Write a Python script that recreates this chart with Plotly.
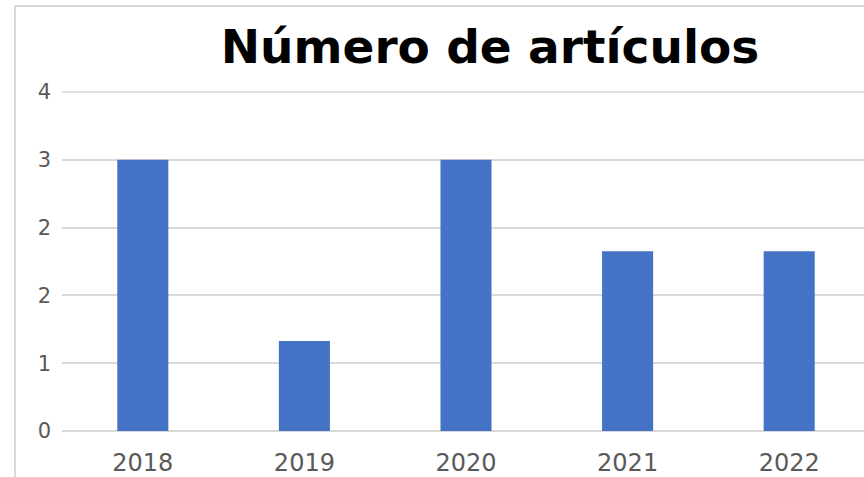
import plotly.graph_objects as go

years = ["2018", "2019", "2020", "2021", "2022"]
articles = [3.2, 1.06, 3.2, 2.12, 2.12]
y_tickvals = [0, 0.8, 1.6, 2.4, 3.2, 4.0]
y_ticktext = ["0", "1", "2", "2", "3", "4"]

W, H = 864, 477
L, R, T, B = 62, 0, 91, 46
pw = W - L - R
ph = H - T - B
YMAX = 4.01

def px_to_paper_x(px):
    return (px - L) / pw

def px_to_paper_y(py):
    return (H - B - py) / ph

fig = go.Figure()
fig.add_trace(go.Bar(
    x=years, y=articles,
    marker=dict(color="#4472C4", line=dict(width=0)),
    width=0.316,
))

shapes = [dict(
    type="rect", xref="paper", yref="paper",
    x0=px_to_paper_x(15), x1=px_to_paper_x(875),
    y0=px_to_paper_y(485), y1=px_to_paper_y(6),
    line=dict(color="#d9d9d9", width=2),
    fillcolor="rgba(0,0,0,0)", layer="below",
)]
# top gridline (plotly omits gridlines at the plot edge)
shapes.append(dict(
    type="line", xref="paper", yref="y",
    x0=0, x1=1, y0=y_tickvals[-1], y1=y_tickvals[-1],
    line=dict(color="#d9d9d9", width=2), layer="below",
))

fig.update_layout(
    width=W, height=H,
    margin=dict(l=L, r=R, t=T, b=B),
    paper_bgcolor="white",
    plot_bgcolor="white",
    showlegend=False,
    font=dict(family="DejaVu Sans", color="#595959"),
    title=dict(
        text="<b>Número de artículos</b>",
        font=dict(family="DejaVu Sans", size=47, color="#000000"),
        x=490 / W, xanchor="center", xref="container",
        y=1 - 47 / H, yanchor="middle", yref="container",
    ),
    xaxis=dict(
        type="category",
        range=[-0.5, -0.5 + pw / 161.6],
        showgrid=False, showline=False, zeroline=False,
        ticks="", tickfont=dict(size=24, color="#595959"),
        ticklabelstandoff=15,
    ),
    yaxis=dict(
        range=[0, YMAX],
        tickvals=y_tickvals, ticktext=y_ticktext,
        showgrid=True, gridcolor="#d9d9d9", gridwidth=2,
        zeroline=True, zerolinecolor="#d9d9d9", zerolinewidth=2,
        showline=False, ticks="",
        tickfont=dict(size=21, color="#595959"),
        ticklabelstandoff=10,
    ),
    shapes=shapes,
)

fig.write_html(
    "out.html",
    config={"displayModeBar": False},
    post_script="document.body.style.margin='0';document.body.style.overflow='hidden';",
)
